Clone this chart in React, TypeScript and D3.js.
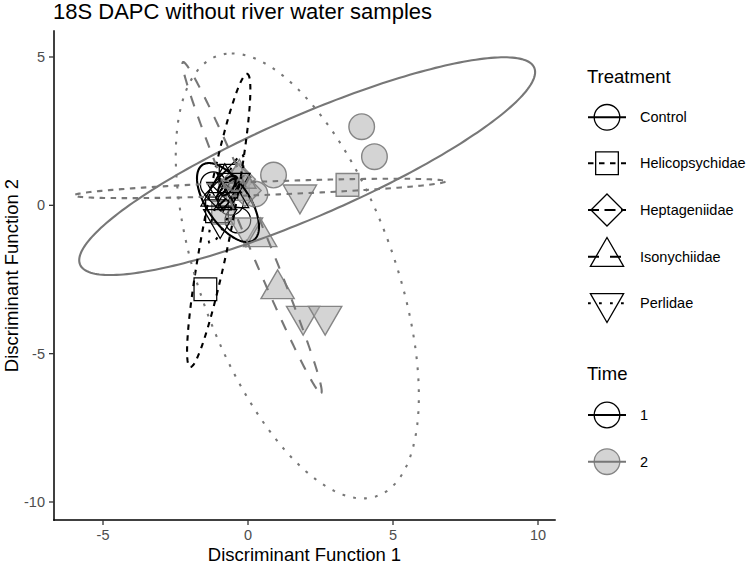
import React from 'react';
import * as d3 from 'd3';

const W = 750;
const H = 563;

const treatments = ['Control', 'Helicopsychidae', 'Heptageniidae', 'Isonychiidae', 'Perlidae'];
const timeLevels = ['1', '2'];
const xTicks = [-5, 0, 5, 10];
const yTicks = [-10, -5, 0, 5];
const titleText = '18S DAPC without river water samples';
const xTitle = 'Discriminant Function 1';
const yTitle = 'Discriminant Function 2';

// sample scores [DF1, DF2] by treatment and time
const control1 = [[-1.2, 0.7], [-0.6, 0.1], [-0.35, -0.5]];
const control2 = [[3.92, 2.65], [4.36, 1.64], [0.88, 1.02], [0.24, 0.38]];
const helico1 = [[-1.47, -2.83], [-1.07, -0.2], [-0.6, 1.0]];
const helico2 = [[3.43, 0.69], [-0.86, -0.25], [-0.35, 0.55]];
const hepta1 = [[-0.69, 0.68], [-0.95, 0.35], [-0.45, 0.95]];
const hepta2 = [[-0.3, 0.88], [-0.1, 0.5]];
const isony1 = [[-1.05, 0.3], [-0.8, 0.75], [-0.55, 0.25]];
const isony2 = [[1.02, -2.82], [0.42, -1.07], [-0.3, 0.9]];
const perli1 = [[-0.96, -0.47], [-0.85, 0.45], [-0.5, 0.75]];
const perli2 = [[1.79, 0.36], [1.9, -3.73], [2.66, -3.73], [-0.07, -0.75]];

// 95% ellipses: [cx, cy, ax, ay, bx, by] (centre and two conjugate semi-axes, data units)
const ellControl1 = [-0.69, 0.094, -0.655, 1.331, 0.845, 0];
const ellControl2 = [2.04, 1.32, 6.79, 3.67, 3.96, 0];
const ellHelico1 = [-1.01, -0.51, 0.983, 4.94, 0.474, -0.09];
const ellHelico2 = [0.4, 0.57, 6.4, 0.236, 0, -0.226];
const ellHepta1 = [-0.7, 0.66, 0.3, 0.3, 0.15, -0.15];
const ellHepta2 = [-0.25, 0.75, 0.25, 0.25, 0.1, -0.1];
const ellIsony1 = [-0.8, 0.43, 0.35, 0.45, 0.12, -0.1];
const ellIsony2 = [0.14, -0.75, 2.38, -5.58, 0.318, 0.13];
const ellPerli1 = [-0.75, 0.2, 0.55, 1.5, 0.25, -0.1];
const ellPerli2 = [1.7, -2.38, -2.26, 7.5, 3.53, 0];

const groups = [
  { tr: 'Control', time: '1', pts: control1, ell: ellControl1 },
  { tr: 'Control', time: '2', pts: control2, ell: ellControl2 },
  { tr: 'Helicopsychidae', time: '1', pts: helico1, ell: ellHelico1 },
  { tr: 'Helicopsychidae', time: '2', pts: helico2, ell: ellHelico2 },
  { tr: 'Heptageniidae', time: '1', pts: hepta1, ell: ellHepta1 },
  { tr: 'Heptageniidae', time: '2', pts: hepta2, ell: ellHepta2 },
  { tr: 'Isonychiidae', time: '1', pts: isony1, ell: ellIsony1 },
  { tr: 'Isonychiidae', time: '2', pts: isony2, ell: ellIsony2 },
  { tr: 'Perlidae', time: '1', pts: perli1, ell: ellPerli1 },
  { tr: 'Perlidae', time: '2', pts: perli2, ell: ellPerli2 },
];

const shapeOf: Record<string, string> = {
  Control: 'circle',
  Helicopsychidae: 'square',
  Heptageniidae: 'diamond',
  Isonychiidae: 'up',
  Perlidae: 'down',
};
const U = 2.75;
const dashOf: Record<string, string> = {
  Control: 'none',
  Helicopsychidae: `${2 * U} ${2 * U}`,
  Heptageniidae: `${4 * U} ${2 * U}`,
  Isonychiidae: `${4 * U} ${4 * U}`,
  Perlidae: `${1 * U} ${3 * U}`,
};
const lineCol: Record<string, string> = { '1': '#000000', '2': '#777777' };
const ptStroke: Record<string, string> = { '1': '#000000', '2': '#858585' };
const ptFill: Record<string, string> = { '1': 'none', '2': '#a9a9a9' };

const R = 12.8;

function shapePath(shape: string, r: number): string {
  if (shape === 'circle') {
    return `M${-r},0A${r},${r} 0 1,0 ${r},0A${r},${r} 0 1,0 ${-r},0Z`;
  }
  if (shape === 'square') {
    const h = r * 0.886;
    return `M${-h},${-h}L${h},${-h}L${h},${h}L${-h},${h}Z`;
  }
  if (shape === 'diamond') {
    const h = r * 1.2533;
    return `M0,${-h}L${h},0L0,${h}L${-h},0Z`;
  }
  const tr = r * 1.5;
  const xc = tr * 0.866;
  if (shape === 'up') {
    return `M0,${-tr}L${xc},${tr / 2}L${-xc},${tr / 2}Z`;
  }
  return `M0,${tr}L${xc},${-tr / 2}L${-xc},${-tr / 2}Z`;
}

const panel = { left: 54, right: 555, top: 31, bottom: 520 };

export default function App() {
  const x = d3.scaleLinear().domain([-6.69, 10.586]).range([panel.left, panel.right]);
  const y = d3.scaleLinear().domain([5.876, -10.607]).range([panel.top, panel.bottom]);

  const line = d3.line();
  const ellipsePath = (e: number[]) => {
    const n = 240;
    const pts = d3.range(n).map((i) => {
      const t = (2 * Math.PI * i) / n;
      return [
        x(e[0] + e[2] * Math.cos(t) + e[4] * Math.sin(t)),
        y(e[1] + e[3] * Math.cos(t) + e[5] * Math.sin(t)),
      ] as [number, number];
    });
    return line(pts) + 'Z';
  };

  const font = "'Liberation Sans', Arial, Helvetica, sans-serif";
  const legX = 607;
  const trKeyY = [117.3, 163.3, 210, 256.7, 303.3];
  const timeKeyY = [415, 461.7];

  return (
    <svg
      width={W}
      height={H}
      style={{ position: 'fixed', left: 0, top: 0, background: '#ffffff' }}
      fontFamily={font}
    >
      <rect x={0} y={0} width={W} height={H} fill="#ffffff" />
      <text x={panel.left - 1} y={19} fontSize={22} fill="#000">
        {titleText}
      </text>

      <defs>
        <clipPath id="panelClip">
          <rect x={panel.left} y={panel.top} width={panel.right - panel.left} height={panel.bottom - panel.top} />
        </clipPath>
      </defs>

      <g clipPath="url(#panelClip)">
        {groups.map((g, gi) =>
          g.pts.map((p, i) => (
            <path
              key={`p${gi}-${i}`}
              d={shapePath(shapeOf[g.tr], R)}
              transform={`translate(${x(p[0])},${y(p[1])})`}
              fill={ptFill[g.time]}
              fillOpacity={g.time === '2' ? 0.5 : 1}
              stroke={ptStroke[g.time]}
              strokeWidth={g.time === '1' ? 1.25 : 1.4}
            />
          ))
        )}
        {groups.map((g, gi) => (
          <path
            key={`e${gi}`}
            d={ellipsePath(g.ell)}
            fill="none"
            stroke={lineCol[g.time]}
            strokeWidth={2.1}
            strokeDasharray={dashOf[g.tr]}
          />
        ))}
      </g>

      {/* axes */}
      <line x1={panel.left} x2={panel.right} y1={panel.bottom} y2={panel.bottom} stroke="#000" strokeWidth={1.5} strokeLinecap="square" />
      <line x1={panel.left} x2={panel.left} y1={panel.top} y2={panel.bottom} stroke="#000" strokeWidth={1.5} strokeLinecap="square" />
      {xTicks.map((t) => (
        <g key={`xt${t}`}>
          <line x1={x(t)} x2={x(t)} y1={panel.bottom} y2={panel.bottom + 5} stroke="#333" strokeWidth={1.3} />
          <text x={x(t)} y={540} textAnchor="middle" fontSize={14.5} fill="#4d4d4d">
            {t}
          </text>
        </g>
      ))}
      {yTicks.map((t) => (
        <g key={`yt${t}`}>
          <line x1={panel.left - 5} x2={panel.left} y1={y(t)} y2={y(t)} stroke="#333" strokeWidth={1.3} />
          <text x={panel.left - 9} y={y(t)} dy="0.35em" textAnchor="end" fontSize={14.5} fill="#4d4d4d">
            {t}
          </text>
        </g>
      ))}
      <text x={(panel.left + panel.right) / 2} y={560.5} textAnchor="middle" fontSize={18.5} fill="#000">
        {xTitle}
      </text>
      <text
        transform={`translate(${18},${(panel.top + panel.bottom) / 2}) rotate(-90)`}
        textAnchor="middle"
        fontSize={18.5}
        fill="#000"
      >
        {yTitle}
      </text>

      {/* legend: Treatment */}
      <text x={587} y={83} fontSize={18.5} fill="#000">
        Treatment
      </text>
      {treatments.map((tr, i) => (
        <g key={`lt${tr}`}>
          <path
            d={shapePath(shapeOf[tr], R)}
            transform={`translate(${legX},${trKeyY[i]})`}
            fill="none"
            stroke="#000"
            strokeWidth={1.3}
          />
          <line
            x1={588}
            x2={626}
            y1={trKeyY[i]}
            y2={trKeyY[i]}
            stroke="#000"
            strokeWidth={2.1}
            strokeDasharray={dashOf[tr]}
          />
          <text x={640} y={trKeyY[i]} dy="0.35em" fontSize={14.5} fill="#000">
            {tr}
          </text>
        </g>
      ))}

      {/* legend: Time */}
      <text x={587} y={380} fontSize={18.5} fill="#000">
        Time
      </text>
      {timeLevels.map((tm, i) => (
        <g key={`lm${tm}`}>
          <path
            d={shapePath('circle', R)}
            transform={`translate(${legX},${timeKeyY[i]})`}
            fill={ptFill[tm]}
            fillOpacity={tm === '2' ? 0.5 : 1}
            stroke={ptStroke[tm]}
            strokeWidth={1.3}
          />
          <line x1={588} x2={626} y1={timeKeyY[i]} y2={timeKeyY[i]} stroke={lineCol[tm]} strokeWidth={2.1} />
          <text x={640} y={timeKeyY[i]} dy="0.35em" fontSize={14.5} fill="#000">
            {tm}
          </text>
        </g>
      ))}
    </svg>
  );
}
